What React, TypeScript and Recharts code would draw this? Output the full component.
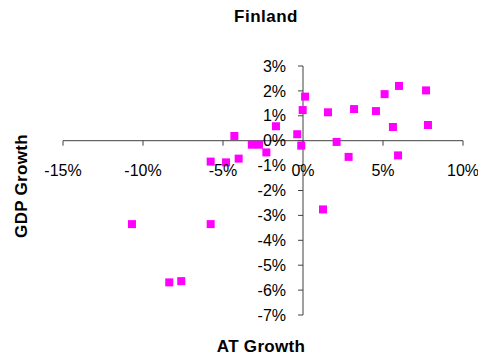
import React from 'react';
import { ScatterChart, Scatter, XAxis, YAxis, ZAxis, ReferenceLine, ReferenceDot } from 'recharts';

const atGrowth = [0.13, -0.02, 1.56, 3.19, 4.56, 5.10, 6.00, 7.69, 5.62, 7.81, 5.94, 2.85, 2.10, -0.36, -0.11, -1.69, -2.29, -3.2, -2.75, -4.29, -4.02, -4.81, -5.77, -10.69, -5.77, -8.36, -7.61, 1.25];
const gdpGrowth = [1.77, 1.23, 1.14, 1.27, 1.19, 1.87, 2.20, 2.02, 0.55, 0.63, -0.59, -0.65, -0.05, 0.26, -0.20, 0.58, -0.47, -0.16, -0.16, 0.19, -0.72, -0.87, -0.84, -3.35, -3.35, -5.69, -5.64, -2.76];

const xTicks = [-15, -10, -5, 0, 5, 10];
const yTicks = [-7, -6, -5, -4, -3, -2, -1, 0, 1, 2, 3];

const data = atGrowth.map((x, i) => ({ x, y: gdpGrowth[i] }));

const AXIS = '#404040';
const FONT = '"Liberation Sans", Arial, sans-serif';

export default function App() {
  return (
    <div style={{ position: 'relative', width: 478, height: 352, fontFamily: FONT }}>
      <ScatterChart width={478} height={352} margin={{ top: 58, right: 23, bottom: 45, left: 55 }}>
        <XAxis type="number" dataKey="x" domain={[-15, 10]} hide />
        <YAxis type="number" dataKey="y" domain={[-7, 3]} hide />
        <ZAxis range={[92, 92]} />
        <ReferenceLine y={0} stroke={AXIS} strokeWidth={1} ifOverflow="visible" />
        <ReferenceLine x={0} stroke={AXIS} strokeWidth={1} ifOverflow="visible" />
        {xTicks.map((t) => (
          <ReferenceLine
            key={'xt' + t}
            segment={[{ x: t, y: 0 }, { x: t, y: -0.2 }]}
            stroke={AXIS}
            ifOverflow="visible"
          />
        ))}
        {yTicks.map((t) => (
          <ReferenceLine
            key={'yt' + t}
            segment={[{ x: 0, y: t }, { x: -0.31, y: t }]}
            stroke={AXIS}
            ifOverflow="visible"
          />
        ))}
        {xTicks.map((t) => (
          <ReferenceDot
            key={'xl' + t}
            x={t}
            y={0}
            r={0}
            fill="none"
            stroke="none"
            ifOverflow="visible"
            label={{ value: `${t}%`, position: 'bottom', offset: 24, fill: '#000', fontSize: 16, fontFamily: FONT }}
          />
        ))}
        {yTicks.map((t) => (
          <ReferenceDot
            key={'yl' + t}
            x={0}
            y={t}
            r={0}
            fill="none"
            stroke="none"
            ifOverflow="visible"
            label={{ value: `${t}%`, position: 'left', offset: 17, fill: '#000', fontSize: 16, fontFamily: FONT }}
          />
        ))}
        <Scatter data={data} fill="#FF00FF" shape="square" isAnimationActive={false} />
      </ScatterChart>
      <div style={{ position: 'absolute', left: 258, top: 7.5, transform: 'translate(-50%,-50%)', fontSize: 17, lineHeight: 1, fontWeight: 'bold', whiteSpace: 'nowrap', letterSpacing: 0.5 }}>
        Finland
      </div>
      <div style={{ position: 'absolute', left: 253, top: 337.7, transform: 'translate(-50%,-50%)', fontSize: 17, lineHeight: 1, fontWeight: 'bold', whiteSpace: 'nowrap', letterSpacing: 0.3 }}>
        AT Growth
      </div>
      <div style={{ position: 'absolute', left: 13, top: 178, transform: 'translate(-50%,-50%) rotate(-90deg)', fontSize: 17, lineHeight: 1, fontWeight: 'bold', whiteSpace: 'nowrap', letterSpacing: 0.3 }}>
        GDP Growth
      </div>
    </div>
  );
}
